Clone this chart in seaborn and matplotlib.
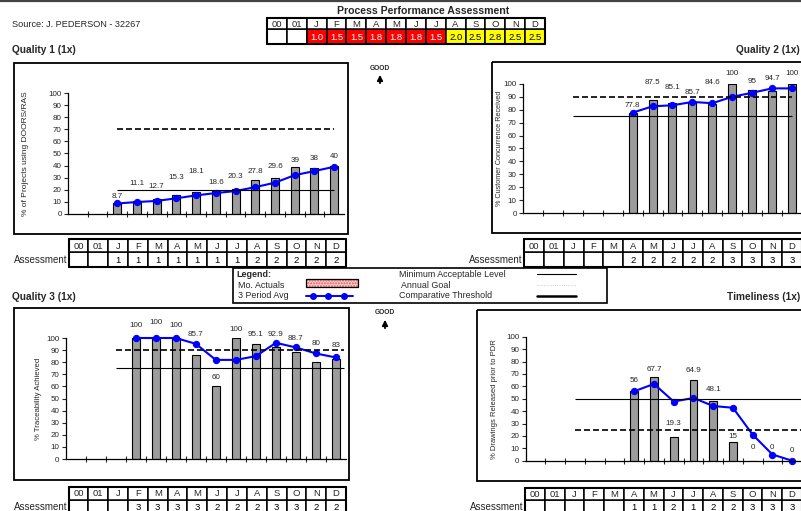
import numpy as np
import pandas as pd
import matplotlib
matplotlib.use("Agg")
import matplotlib.pyplot as plt
from matplotlib.patches import Rectangle
import seaborn as sns

# ---------------------------------------------------------------- data
months = ["00", "01", "Jan", "Feb", "Mar", "Apr", "May", "Jun",
          "Jul", "Aug", "Sep", "Oct", "Nov", "Dec"]
month_labels = ["00", "01", "J", "F", "M", "A", "M", "J", "J", "A", "S", "O", "N", "D"]

header_scores = ["", "", "1.0", "1.5", "1.5", "1.8", "1.8", "1.8", "1.5",
                 "2.0", "2.5", "2.8", "2.5", "2.5"]

# Quality 1
q1_months = months[2:]
q1_actual = [8.7, 11.1, 12.7, 15.3, 18.1, 18.6, 20.3, 27.8, 29.6, 39, 38, 40]
q1_avg = [8.7, 9.9, 10.8, 13.0, 15.4, 17.3, 19.0, 22.2, 25.9, 32.1, 35.5, 39.0]
q1_threshold = 70
q1_minimum = 20
q1_assess = ["", "", "1", "1", "1", "1", "1", "1", "1", "2", "2", "2", "2", "2"]

# Quality 2
q2_months = months[5:]
q2_actual = [77.8, 87.5, 85.1, 85.7, 84.6, 100, 95, 94.7, 100]
q2_avg = [77.8, 82.7, 83.5, 86.1, 85.1, 90.1, 93.2, 96.6, 96.6]
q2_threshold = 90
q2_minimum = 75
q2_assess = ["", "", "", "", "", "2", "2", "2", "2", "2", "3", "3", "3", "3"]

# Quality 3
q3_months = months[3:]
q3_actual = [100, 100, 100, 85.7, 60, 100, 95.1, 92.9, 88.7, 80, 83]
q3_avg = [100, 100, 100, 95.2, 81.9, 81.9, 85.0, 96.0, 92.2, 87.2, 83.9]
q3_threshold = 90
q3_minimum = 75
q3_assess = ["", "", "", "3", "3", "3", "3", "2", "2", "2", "3", "3", "2", "2"]

# Timeliness
t_months = months[5:]
t_actual = [56, 67.7, 19.3, 64.9, 48.1, 15, 0, 0, 0]
t_avg = [56, 61.9, 47.7, 50.6, 44.1, 42.7, 21.0, 5.0, 0]
t_threshold = 25
t_minimum = 50
t_assess = ["", "", "", "", "", "1", "1", "2", "1", "2", "2", "3", "3", "3"]

# label heights (layout, data units)
q1_label_y = [14.7, 25.2, 23.0, 30.2, 35.2, 25.8, 31.3, 35.2, 39.1, 44.6, 45.7, 47.9]
q2_label_y = [83.7, 101.3, 97.1, 93.5, 101.3, 107.8, 101.8, 103.9, 107.8]
q3_label_y = [110.2, 113.2, 110.2, 103.3, 67.5, 107.4, 102.5, 102.7, 100.0, 95.6, 94.2]
t_label_y = [64.8, 73.7, 29.8, 72.9, 57.6, 19.3, 10.8, 10.8, 8.1]

W, H = 801, 511
FONT = "Liberation Sans"
BAR = "#9c9c9c"
BLUE = "#0000ff"

sns.set_theme(style="white")
plt.rcParams["font.family"] = [FONT, "DejaVu Sans"]

fig = plt.figure(figsize=(W / 100, H / 100), dpi=100)
fig.patch.set_facecolor("white")

# overlay in pixel coordinates for boxes / tables / text
ov = fig.add_axes([0, 0, 1, 1])
ov.set_xlim(0, W)
ov.set_ylim(H, 0)
ov.axis("off")


def frac(x0, y0, x1, y1):
    return [x0 / W, 1 - y1 / H, (x1 - x0) / W, (y1 - y0) / H]


def box(x0, y0, x1, y1, lw=1.3):
    ov.add_patch(Rectangle((x0, y0), x1 - x0, y1 - y0, fill=False,
                           edgecolor="black", lw=lw, clip_on=False))


def table(x0, x1, y0, y1, y2, top, bottom, fills=None, tcolors=None, label=None):
    n = len(top)
    cw = (x1 - x0) / n
    for i in range(n):
        cx = x0 + i * cw
        fc = "white" if fills is None else fills[i]
        ov.add_patch(Rectangle((cx, y1), cw, y2 - y1, facecolor=fc,
                               edgecolor="black", lw=1.1, clip_on=False))
        ov.add_patch(Rectangle((cx, y0), cw, y1 - y0, facecolor="white",
                               edgecolor="black", lw=1.1, clip_on=False))
        ov.text(cx + cw / 2, (y0 + y1) / 2 + 0.5, top[i], ha="center",
                va="center", fontsize=6.8)
        tc = "black" if tcolors is None else tcolors[i]
        ov.text(cx + cw / 2, (y1 + y2) / 2 + 0.5, bottom[i], ha="center",
                va="center", fontsize=6.8, color=tc)
    ov.plot([x0, x1, x1, x0, x0], [y0, y0, y2, y2, y0], color="black", lw=1.5,
            clip_on=False)
    if label:
        ov.text(x0 - 1.5, (y1 + y2) / 2 + 0.5, label, ha="right", va="center",
                fontsize=7)


def panel(rect, mon, actual, avg, thr, mn, span, ylabel, ylsize, lpad, label_y):
    ax = fig.add_axes(frac(*rect))
    ax.set_facecolor("none")
    sns.barplot(x=mon, y=actual, order=months, ax=ax, color=BAR, width=0.4,
                edgecolor="black", linewidth=0.8, saturation=1)
    pos = [months.index(m) for m in mon]
    sns.lineplot(x=pos, y=avg, ax=ax, color=BLUE, marker="o", markersize=4.5,
                 markeredgecolor=BLUE, linewidth=1.5, clip_on=False)
    ax.hlines(thr, span[0], span[1], colors="black", lw=1.2,
              linestyles=(0, (3.6, 1.8)), clip_on=False)
    ax.hlines(mn, span[0], span[1], colors="black", lw=0.8, clip_on=False)
    for p, v, ly in zip(pos, actual, label_y):
        ax.text(p, ly, f"{v:g}", ha="center", va="center", fontsize=5.8)
    ax.set_xlim(-0.5, 13.5)
    ax.set_ylim(0, 100)
    ax.set_yticks(np.arange(0, 101, 10))
    ax.set_xticks(np.arange(0.5, 13, 1))
    ax.set_xticklabels([])
    ax.set_xlabel("")
    ax.set_ylabel(ylabel, fontsize=ylsize, labelpad=lpad)
    ax.tick_params(axis="y", labelsize=5.8, direction="out", length=3,
                   width=0.8, pad=1.5, left=True)
    ax.tick_params(axis="x", direction="inout", length=4, width=0.8, bottom=True)
    for s in ["top", "right"]:
        ax.spines[s].set_visible(False)
    for s in ["left", "bottom"]:
        ax.spines[s].set_color("black")
        ax.spines[s].set_linewidth(0.9)
    return ax


# ---------------------------------------------------------------- header
ov.plot([0, W], [1.2, 1.2], color="#444444", lw=1.6)
ov.text(12, 24.5, "Source: J. PEDERSON - 32267", fontsize=6.6, va="center")
ov.text(423, 11.5, "Process Performance Assessment", fontsize=7.6,
        fontweight="bold", ha="center", va="center")
head_fill = ["white" if s == "" else ("#ff0000" if float(s) < 2 else "#ffff00")
             for s in header_scores]
head_text = ["black" if f != "#ff0000" else "white" for f in head_fill]
table(267, 545, 17.7, 29.5, 44, month_labels, header_scores, head_fill, head_text)

ov.text(12, 50, "Quality 1 (1x)", fontsize=7.3, fontweight="bold", va="center")
ov.text(800, 50, "Quality 2 (1x)", fontsize=7.3, fontweight="bold",
        va="center", ha="right")
ov.text(12, 297.5, "Quality 3 (1x)", fontsize=7.3, fontweight="bold", va="center")
ov.text(800, 297.5, "Timeliness (1x)", fontsize=7.3, fontweight="bold",
        va="center", ha="right")

# GOOD arrows
for gx, gy in [(380, 68), (385, 313)]:
    ov.text(gx, gy, "GOOD", fontsize=4.8, fontweight="bold", ha="center",
            va="center")
    ov.annotate("", xy=(gx, gy + 4), xytext=(gx, gy + 18),
                arrowprops=dict(arrowstyle="-|>", color="black", lw=1.3,
                                mutation_scale=8))

# ---------------------------------------------------------------- panels
box(14, 63, 348, 234)
box(492, 62, 815, 233)
box(14, 308, 349, 480)
box(477, 310, 815, 481)

panel((68, 93, 344, 214), q1_months, q1_actual, q1_avg, q1_threshold,
      q1_minimum, (2, 13), "% of Projects using DOORS/RAS", 6.0, 14,
      q1_label_y)
panel((523, 84, 802, 213), q2_months, q2_actual, q2_avg, q2_threshold,
      q2_minimum, (2, 13), "% Customer Concurrence Received", 5.2, 0.3,
      q2_label_y)
panel((65.6, 338, 346, 459), q3_months, q3_actual, q3_avg, q3_threshold,
      q3_minimum, (2, 13.4), "% Traceability Achieved", 5.6, 3, q3_label_y)
panel((525.7, 336.7, 802, 460.7), t_months, t_actual, t_avg, t_threshold,
      t_minimum, (2, 13.6), "% Drawings Released prior to PDR", 5.5, 6,
      t_label_y)

# ---------------------------------------------------------------- assessment tables
table(68.5, 346, 239.3, 252.5, 266.7, month_labels, q1_assess, label="Assessment")
table(524, 802, 239.3, 252.5, 266.7, month_labels, q2_assess, label="Assessment")
table(68.5, 346, 486.7, 500, 513, month_labels, q3_assess, label="Assessment")
table(525, 802, 487.7, 500, 513, month_labels, t_assess, label="Assessment")

# ---------------------------------------------------------------- legend
ov.add_patch(Rectangle((233.3, 268.3), 373.4, 34.4, facecolor="white",
                       edgecolor="black", lw=1.2))
ov.text(236, 274.7, "Legend:", fontsize=6.4, fontweight="bold", va="center")
ov.text(238.3, 285, "Mo. Actuals", fontsize=6.4, va="center")
ov.text(238.3, 295.7, "3 Period Avg", fontsize=6.4, va="center")
ov.add_patch(Rectangle((306, 279.3), 51.7, 7.4, facecolor="#fbd3d3",
                       edgecolor="#e05050", hatch="......", lw=0))
ov.add_patch(Rectangle((306, 279.3), 51.7, 7.4, fill=False,
                       edgecolor="black", lw=0.9))
ov.plot([306, 352.7], [295.7, 295.7], color=BLUE, lw=1.4)
ov.plot([312.7, 328.3, 344], [295.7, 295.7, 295.7], "o", color=BLUE,
        markersize=4)
ov.text(399, 274.3, "Minimum Acceptable Level", fontsize=6.4, va="center")
ov.text(401, 285, "Annual Goal", fontsize=6.4, va="center")
ov.text(399, 295.7, "Comparative Threshold", fontsize=6.4, va="center")
ov.plot([537, 576], [274.3, 274.3], color="black", lw=0.8)
ov.plot([537, 576], [285, 285], color="#bbbbbb", lw=0.6, ls=":")
ov.plot([537, 576], [295.7, 295.7], color="black", lw=1.8)

fig.savefig("out.png", dpi=100)
